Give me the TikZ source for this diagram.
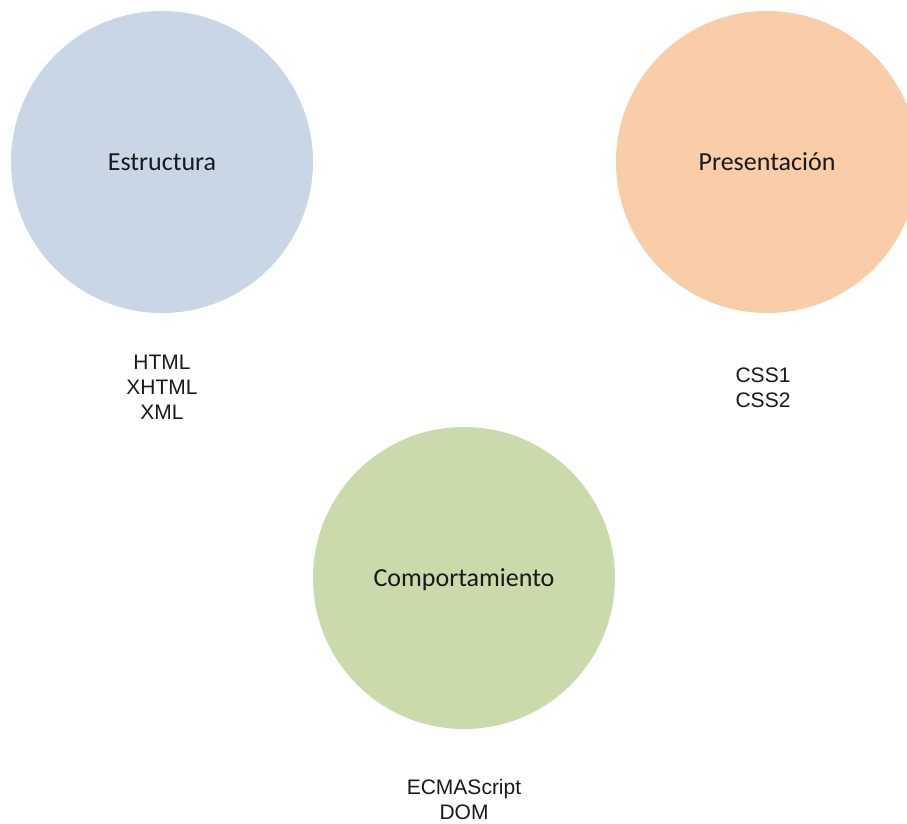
\documentclass[tikz,border=0pt]{standalone}
\usepackage{fontspec}
\newfontfamily\circlefont{Carlito}
\newfontfamily\listfont{Liberation Sans}
\definecolor{structblue}{RGB}{201,214,230}
\definecolor{presorange}{RGB}{249,205,168}
\definecolor{behavgreen}{RGB}{202,218,170}
\definecolor{inktext}{RGB}{25,25,25}
\begin{document}
\begin{tikzpicture}[x=1pt,y=-1pt,
  layer/.style={circle, draw=none, minimum size=302pt, inner sep=0pt,
    text height=17pt, text depth=0pt, text=inktext,
    font=\circlefont\fontsize{26}{30}\selectfont},
  techlist/.style={align=center, inner sep=0pt, anchor=base, text=inktext,
    font=\listfont\fontsize{21}{25}\selectfont}]
  \useasboundingbox (0,0) rectangle (907,824);
  \clip (0,0) rectangle (907,824);
  % the three layers of a web page
  \node[layer, fill=structblue] (estructura) at (162,162) {Estructura};
  \node[layer, fill=presorange] (presentacion) at (767,162) {Presentación};
  \node[layer, fill=behavgreen] (comportamiento) at (464,578) {Comportamiento};
  % technologies of each layer (anchored at the baseline of the last line)
  \node[techlist] (estructuraTec) at (162,419) {HTML\\XHTML\\XML};
  \node[techlist] (presentacionTec) at (763,407) {CSS1\\CSS2};
  \node[techlist] (comportamientoTec) at (464,819) {ECMAScript\\DOM};
\end{tikzpicture}
\end{document}
